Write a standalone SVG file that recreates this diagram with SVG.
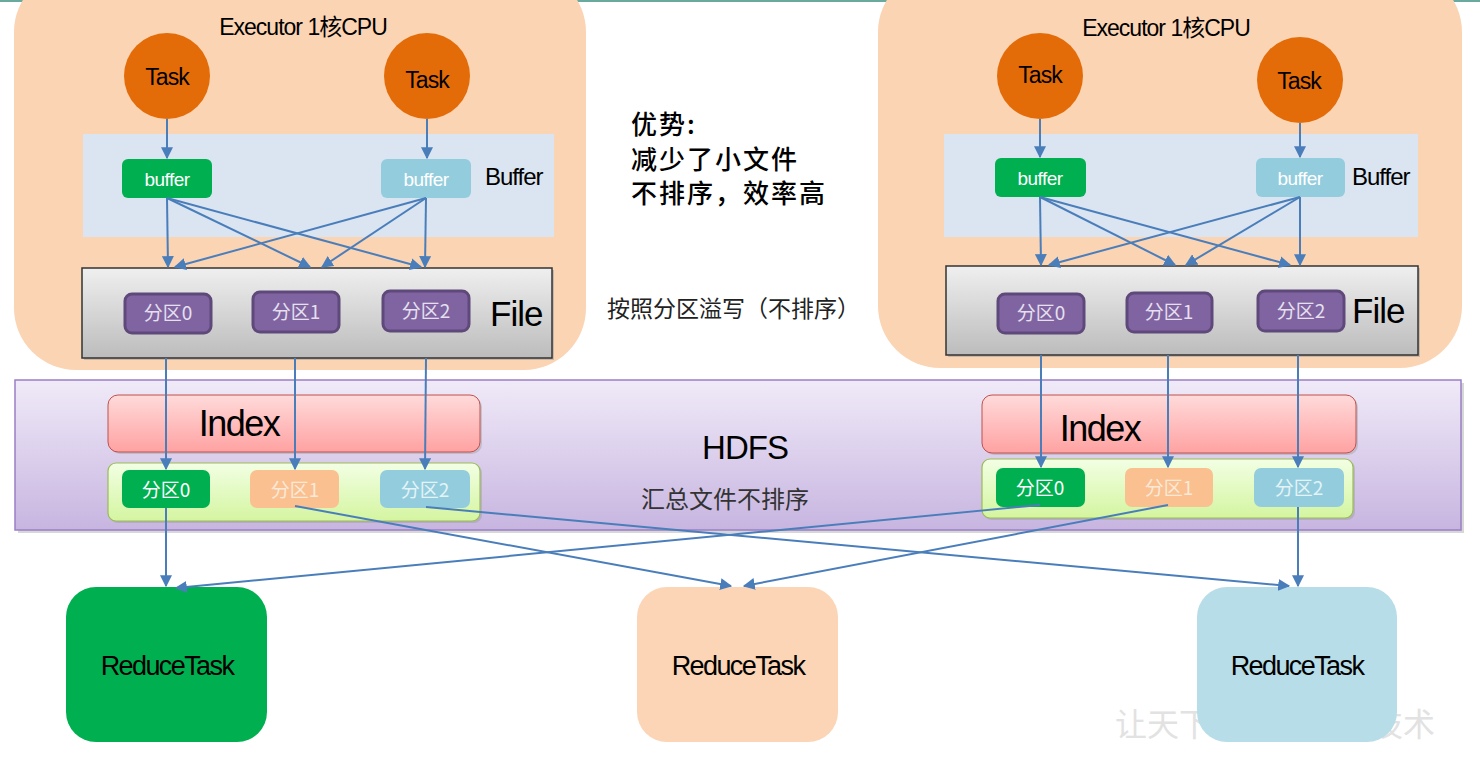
<svg xmlns="http://www.w3.org/2000/svg" width="1480" height="760" viewBox="0 0 1480 760">
<defs>
<style>
.lat{font-family:"Liberation Sans",Arial,sans-serif}
.cjk{font-family:"Noto Sans CJK SC","Noto Sans",sans-serif}
.exec{fill:#fbd4b4}
.task{fill:#e36c09}
.band{fill:#dbe5f1}
.bufg{fill:#00b050}
.bufb{fill:#93cddd}
.part{fill:#8064a2;stroke:#5f497a;stroke-width:3}
.conn{stroke:#4a7ebb;stroke-width:2;fill:none;marker-end:url(#ah)}
.t22{font-size:23px;fill:#000;letter-spacing:-1px}
.wt{fill:#fff}
.pt{font-size:19px;text-anchor:middle}
.note{font-size:26px;fill:#000;font-weight:500;letter-spacing:2px}
</style>
<marker id="ah" viewBox="0 0 10 10" refX="9" refY="5" markerWidth="6" markerHeight="6" orient="auto" markerUnits="strokeWidth">
<path d="M0,0 L10,5 L0,10 z" fill="#4a7ebb"/>
</marker>
<linearGradient id="gfile" x1="0" y1="0" x2="0" y2="1"><stop offset="0" stop-color="#efefef"/><stop offset="1" stop-color="#bcbcbc"/></linearGradient>
<linearGradient id="ghdfs" x1="0" y1="0" x2="0" y2="1"><stop offset="0" stop-color="#f0eaf8"/><stop offset="1" stop-color="#c7b5e0"/></linearGradient>
<linearGradient id="gidx" x1="0" y1="0" x2="0" y2="1"><stop offset="0" stop-color="#ffdada"/><stop offset="1" stop-color="#ffa2a2"/></linearGradient>
<linearGradient id="gcont" x1="0" y1="0" x2="0" y2="1"><stop offset="0" stop-color="#f2ffe4"/><stop offset="1" stop-color="#d4f5a0"/></linearGradient>
</defs>
<rect width="1480" height="760" fill="#fff"/>
<line x1="0" y1="1" x2="1480" y2="1" stroke="#6aaa9e" stroke-width="2"/>
<text class="cjk" x="1115" y="736" font-size="32" fill="#e2e2e2">让天下没有难学的技术</text>

<g id="executor-left">
<rect class="exec" x="14" y="-30" width="572" height="400" rx="62"/>
<text class="lat t22" x="303" y="35" text-anchor="middle">Executor 1<tspan class="cjk">核</tspan>CPU</text>
<rect class="band" x="83" y="134" width="471" height="103"/>
<text class="lat" x="485" y="185" font-size="24" letter-spacing="-1">Buffer</text>
</g>
<g id="executor-right">
<rect class="exec" x="878" y="-30" width="584" height="398" rx="62"/>
<text class="lat t22" x="1166" y="36" text-anchor="middle">Executor 1<tspan class="cjk">核</tspan>CPU</text>
<rect class="band" x="944" y="134" width="474" height="103"/>
<text class="lat" x="1352" y="185" font-size="24" letter-spacing="-1">Buffer</text>
</g>

<g id="task-l1"><circle class="task" cx="167" cy="76" r="43"/><text class="lat t22" x="167" y="85" text-anchor="middle">Task</text></g>
<g id="task-l2"><circle class="task" cx="427" cy="76" r="43"/><text class="lat t22" x="427" y="88" text-anchor="middle">Task</text></g>
<g id="task-r1"><circle class="task" cx="1040" cy="76" r="43"/><text class="lat t22" x="1040" y="83" text-anchor="middle">Task</text></g>
<g id="task-r2"><circle class="task" cx="1300" cy="80" r="43"/><text class="lat t22" x="1299" y="89" text-anchor="middle">Task</text></g>

<g id="buffer-l1"><rect class="bufg" x="122" y="159" width="90" height="39" rx="6"/><text class="lat wt" x="167" y="186" font-size="19" text-anchor="middle" letter-spacing="-0.5">buffer</text></g>
<g id="buffer-l2"><rect class="bufb" x="381" y="159" width="90" height="39" rx="6"/><text class="lat wt" x="426" y="186" font-size="19" text-anchor="middle" letter-spacing="-0.5">buffer</text></g>
<g id="buffer-r1"><rect class="bufg" x="995" y="158" width="91" height="39" rx="6"/><text class="lat wt" x="1040" y="185" font-size="19" text-anchor="middle" letter-spacing="-0.5">buffer</text></g>
<g id="buffer-r2"><rect class="bufb" x="1256" y="158" width="89" height="39" rx="6"/><text class="lat wt" x="1300" y="185" font-size="19" text-anchor="middle" letter-spacing="-0.5">buffer</text></g>

<g id="file-left">
<rect x="84" y="270" width="470" height="90" fill="#9a9a9a" opacity="0.5"/>
<rect x="82" y="268" width="470" height="90" fill="url(#gfile)" stroke="#333" stroke-width="1.5"/>
<rect class="part" x="125" y="294" width="86" height="39" rx="7"/><text class="cjk pt" x="168" y="320" fill="#e6e0ee">分区0</text>
<rect class="part" x="253" y="292" width="86" height="40" rx="7"/><text class="cjk pt" x="296" y="319" fill="#e6e0ee">分区1</text>
<rect class="part" x="383" y="291" width="86" height="40" rx="7"/><text class="cjk pt" x="426" y="318" fill="#e6e0ee">分区2</text>
<text class="lat" x="490" y="326" font-size="35" fill="#000" letter-spacing="-1">File</text>
</g>
<g id="file-right">
<rect x="948" y="268" width="472" height="89" fill="#9a9a9a" opacity="0.5"/>
<rect x="946" y="266" width="472" height="89" fill="url(#gfile)" stroke="#333" stroke-width="1.5"/>
<rect class="part" x="998" y="294" width="86" height="39" rx="7"/><text class="cjk pt" x="1041" y="320" fill="#e6e0ee">分区0</text>
<rect class="part" x="1127" y="293" width="85" height="39" rx="7"/><text class="cjk pt" x="1169" y="319" fill="#e6e0ee">分区1</text>
<rect class="part" x="1258" y="291" width="86" height="40" rx="7"/><text class="cjk pt" x="1301" y="318" fill="#e6e0ee">分区2</text>
<text class="lat" x="1352" y="323" font-size="35" fill="#000" letter-spacing="-1">File</text>
</g>

<g id="notes">
<text class="cjk note" x="631" y="134">优势:</text>
<text class="cjk note" x="631" y="169">减少了小文件</text>
<text class="cjk note" x="631" y="203">不排序，效率高</text>
<text class="cjk" x="607" y="317" font-size="23" fill="#222">按照分区溢写（不排序）</text>
</g>

<g id="hdfs">
<rect x="18" y="383" width="1446" height="150" fill="#9a9a9a" opacity="0.4"/>
<rect x="15" y="380" width="1446" height="150" fill="url(#ghdfs)" stroke="#9a7fc6" stroke-width="1.5"/>
<text class="lat" x="745" y="459" font-size="33" fill="#000" text-anchor="middle" letter-spacing="-1">HDFS</text>
<text class="cjk" x="725" y="508" font-size="24" fill="#333" text-anchor="middle">汇总文件不排序</text>
</g>
<g id="index-left">
<rect x="110" y="397" width="372" height="57" rx="10" fill="#999" opacity="0.4"/>
<rect x="108" y="395" width="372" height="57" rx="10" fill="url(#gidx)" stroke="#c0504d" stroke-width="1"/>
<text class="lat" x="239" y="436" font-size="36" fill="#000" text-anchor="middle" letter-spacing="-1.5">Index</text>
</g>
<g id="index-right">
<rect x="984" y="397" width="374" height="58" rx="10" fill="#999" opacity="0.4"/>
<rect x="982" y="395" width="374" height="58" rx="10" fill="url(#gidx)" stroke="#c0504d" stroke-width="1"/>
<text class="lat" x="1100" y="441" font-size="36" fill="#000" text-anchor="middle" letter-spacing="-1.5">Index</text>
</g>
<g id="merged-left">
<rect x="110" y="465" width="372" height="58" rx="8" fill="#999" opacity="0.4"/>
<rect x="108" y="463" width="372" height="58" rx="8" fill="url(#gcont)" stroke="#9bbb59" stroke-width="1.2"/>
<rect x="122" y="470" width="88" height="38" rx="7" fill="#00b050"/><text class="cjk wt pt" x="166" y="497">分区0</text>
<rect x="250" y="470" width="89" height="38" rx="7" fill="#fac090"/><text class="cjk pt" x="295" y="497" fill="#fbe9d8">分区1</text>
<rect x="380" y="470" width="90" height="38" rx="7" fill="#93cddd"/><text class="cjk pt" x="425" y="497" fill="#e4f3f7">分区2</text>
</g>
<g id="merged-right">
<rect x="984" y="461" width="371" height="59" rx="8" fill="#999" opacity="0.4"/>
<rect x="982" y="459" width="371" height="59" rx="8" fill="url(#gcont)" stroke="#9bbb59" stroke-width="1.2"/>
<rect x="996" y="468" width="89" height="39" rx="7" fill="#00b050"/><text class="cjk wt pt" x="1040" y="495">分区0</text>
<rect x="1125" y="468" width="88" height="39" rx="7" fill="#fac090"/><text class="cjk pt" x="1169" y="495" fill="#fbe9d8">分区1</text>
<rect x="1254" y="468" width="90" height="39" rx="7" fill="#93cddd"/><text class="cjk pt" x="1299" y="495" fill="#e4f3f7">分区2</text>
</g>

<g id="reduce-1"><rect x="66" y="587" width="201" height="155" rx="30" fill="#00b050"/><text class="lat" x="167" y="675" font-size="27" fill="#000" text-anchor="middle" letter-spacing="-1.6">ReduceTask</text></g>
<g id="reduce-2"><rect x="637" y="587" width="201" height="155" rx="30" fill="#fbd5b5"/><text class="lat" x="738" y="675" font-size="27" fill="#000" text-anchor="middle" letter-spacing="-1.6">ReduceTask</text></g>
<g id="reduce-3"><rect x="1197" y="587" width="200" height="155" rx="30" fill="#b7dde8"/><text class="lat" x="1297" y="675" font-size="27" fill="#000" text-anchor="middle" letter-spacing="-1.6">ReduceTask</text></g>

<g id="connectors">
<line class="conn" x1="167" y1="119" x2="167" y2="158"/>
<line class="conn" x1="427" y1="119" x2="427" y2="158"/>
<line class="conn" x1="1040" y1="119" x2="1040" y2="157"/>
<line class="conn" x1="1300" y1="123" x2="1300" y2="157"/>
<line class="conn" x1="167" y1="198" x2="168" y2="267"/>
<line class="conn" x1="167" y1="198" x2="310" y2="267"/>
<line class="conn" x1="167" y1="198" x2="421" y2="267"/>
<line class="conn" x1="426" y1="198" x2="175" y2="267"/>
<line class="conn" x1="426" y1="198" x2="322" y2="267"/>
<line class="conn" x1="426" y1="198" x2="425" y2="267"/>
<line class="conn" x1="1040" y1="197" x2="1041" y2="265"/>
<line class="conn" x1="1040" y1="197" x2="1175" y2="265"/>
<line class="conn" x1="1040" y1="197" x2="1290" y2="265"/>
<line class="conn" x1="1300" y1="197" x2="1049" y2="265"/>
<line class="conn" x1="1300" y1="197" x2="1186" y2="265"/>
<line class="conn" x1="1300" y1="197" x2="1300" y2="265"/>
<line class="conn" x1="166" y1="358" x2="166" y2="469"/>
<line class="conn" x1="295" y1="358" x2="295" y2="469"/>
<line class="conn" x1="426" y1="358" x2="425" y2="469"/>
<line class="conn" x1="1041" y1="355" x2="1041" y2="467"/>
<line class="conn" x1="1168" y1="355" x2="1168" y2="467"/>
<line class="conn" x1="1298" y1="355" x2="1298" y2="467"/>
<line class="conn" x1="166" y1="508" x2="166" y2="586"/>
<line class="conn" x1="1040" y1="505" x2="176" y2="588"/>
<line class="conn" x1="295" y1="506" x2="731" y2="586"/>
<line class="conn" x1="1168" y1="505" x2="744" y2="586"/>
<line class="conn" x1="426" y1="507" x2="1289" y2="586"/>
<line class="conn" x1="1298" y1="507" x2="1298" y2="586"/>
</g>
</svg>
